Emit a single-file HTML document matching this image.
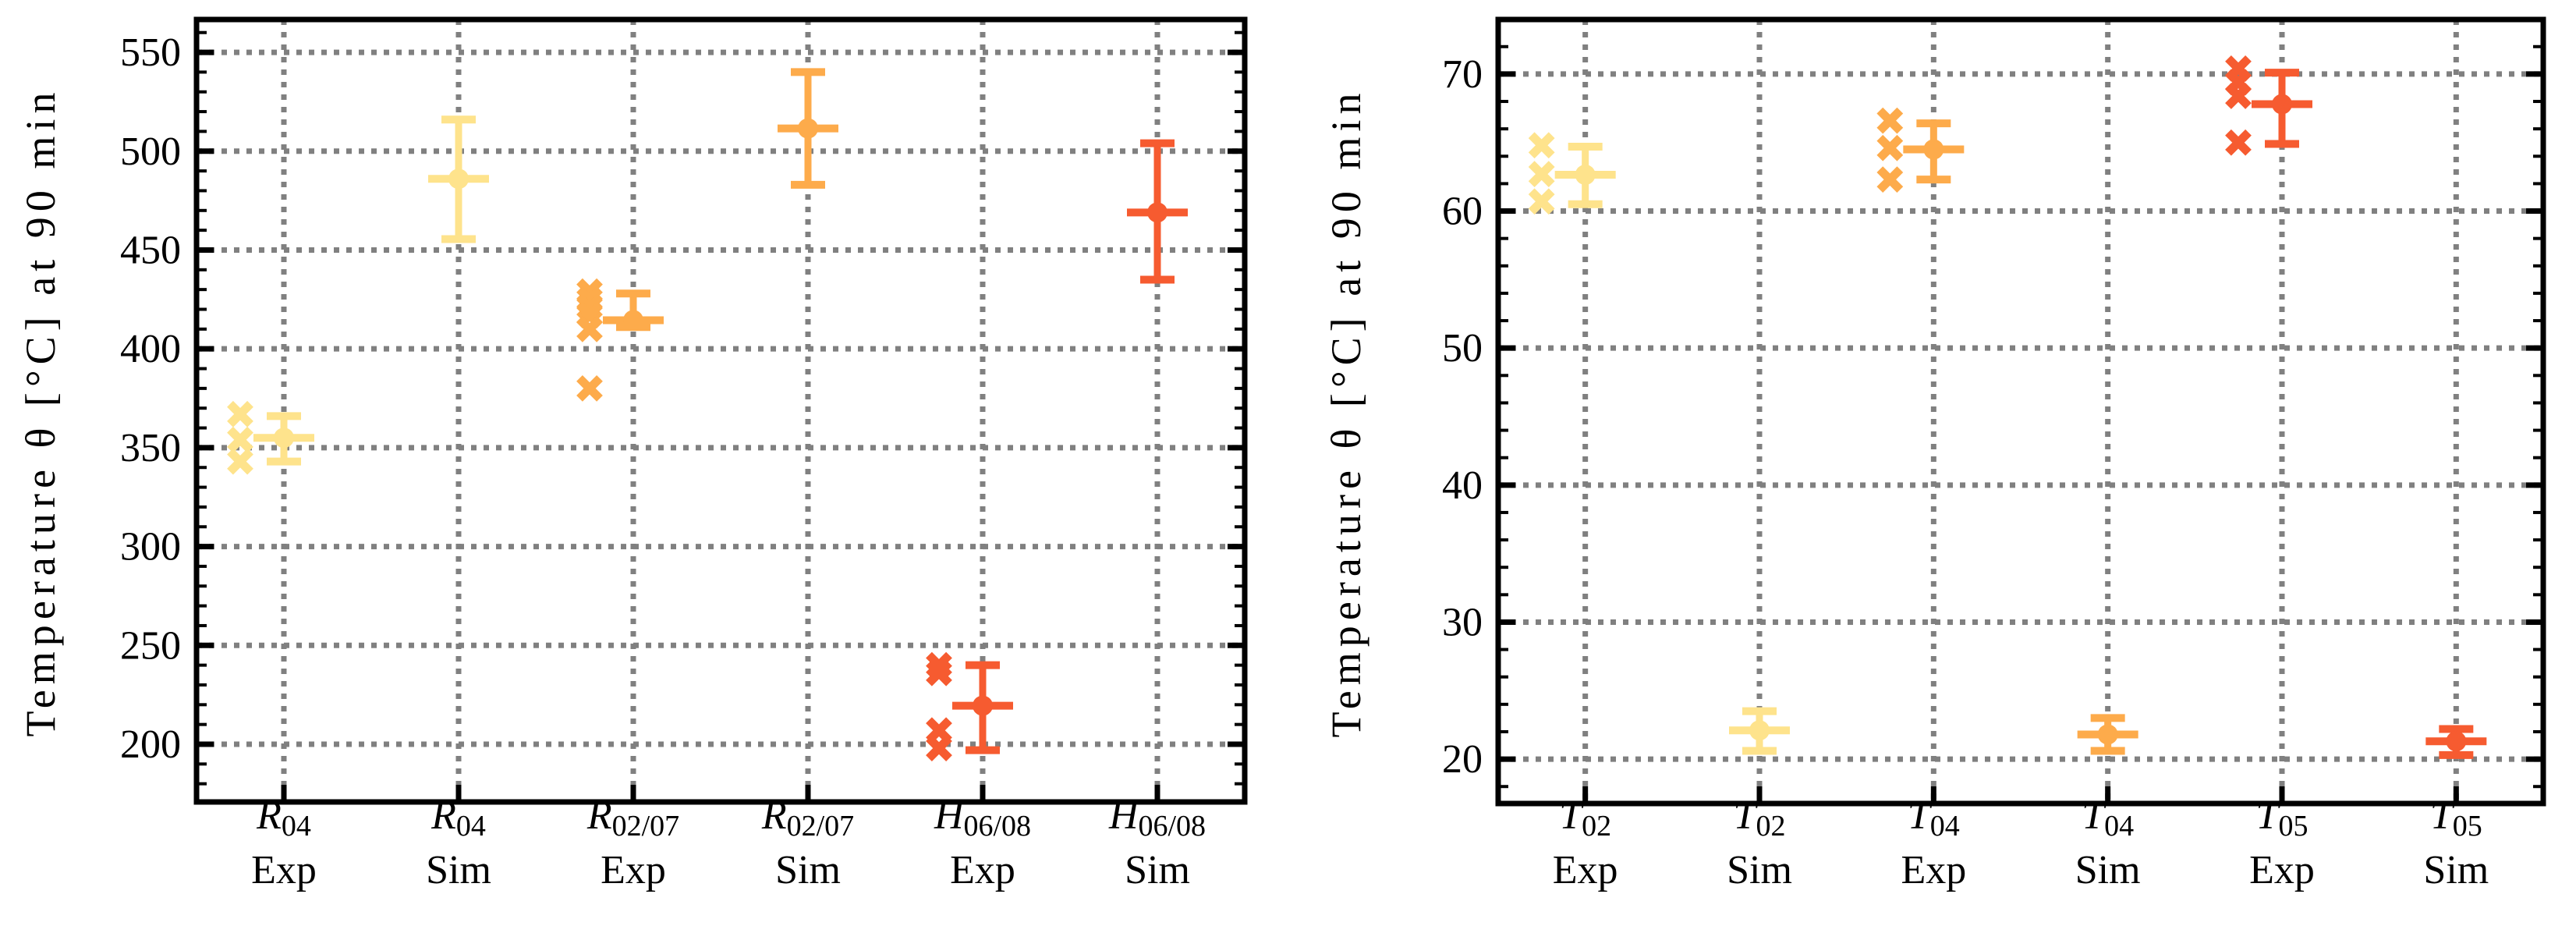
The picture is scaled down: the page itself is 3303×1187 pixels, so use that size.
<!DOCTYPE html>
<html><head><meta charset="utf-8"><style>
html,body{margin:0;padding:0;background:#fff;}
svg{display:block;}
text{font-family:"Liberation Serif",serif;fill:#000;}
</style></head><body>
<svg id="chart" width="3303" height="1187" viewBox="0 0 3303 1187" xmlns="http://www.w3.org/2000/svg"></svg>
<script>
// ---- Left panel data ----
const leftCats = [["R","04","Exp"],["R","04","Sim"],["R","02/07","Exp"],["R","02/07","Sim"],["H","06/08","Exp"],["H","06/08","Sim"]];
const leftMeans = [355, 486, 414.5, 511.5, 219.5, 469];
const leftUpper = [366, 516, 428, 540, 240, 504];
const leftLower = [343, 455.5, 411, 483, 197, 435];
const leftPoints = [[367, 354, 343], [], [429, 425, 421, 417, 410, 380], [], [240, 236, 207, 198], []];
const leftTicks = [200, 250, 300, 350, 400, 450, 500, 550];
// ---- Right panel data ----
const rightCats = [["T","02","Exp"],["T","02","Sim"],["T","04","Exp"],["T","04","Sim"],["T","05","Exp"],["T","05","Sim"]];
const rightMeans = [62.65, 22.1, 64.5, 21.8, 67.8, 21.3];
const rightUpper = [64.7, 23.5, 66.4, 23.0, 70.1, 22.2];
const rightLower = [60.5, 20.6, 62.3, 20.6, 64.9, 20.3];
const rightPoints = [[64.8, 62.7, 60.7], [], [66.6, 64.6, 62.3], [], [70.4, 69.4, 68.4, 65.0], []];
const rightTicks = [20, 30, 40, 50, 60, 70];
const colors = ["#fee38c", "#fee38c", "#fdab4b", "#fdab4b", "#f65b30", "#f65b30"];

const NS = "http://www.w3.org/2000/svg";
const svg = document.getElementById("chart");
function mk(tag, attrs, parent) {
  const e = document.createElementNS(NS, tag);
  for (const k in attrs) e.setAttribute(k, attrs[k]);
  (parent || svg).appendChild(e);
  return e;
}

function panel(cfg) {
  const g = mk("g", {});
  
  
  const {x0, x1, y0, y1, ymin, ymax} = cfg;
  const sx = i => x0 + (i + 0.5) * (x1 - x0) / 6;
  const sy = v => y1 - (v - ymin) / (ymax - ymin) * (y1 - y0);
  const grid = mk("g", {stroke: "#808080", "stroke-width": 7, "stroke-dasharray": "7 9", fill: "none"}, g);
  
  
  cfg.ticks.forEach(t => mk("line", {x1: x0, x2: x1, y1: sy(t), y2: sy(t)}, grid));
  for (let i = 0; i < 6; i++) mk("line", {x1: sx(i), x2: sx(i), y1: y0, y2: y1}, grid);
  const tk = mk("g", {stroke: "#000"}, g);
  
  
  for (let v = Math.ceil(ymin / cfg.minor) * cfg.minor; v <= ymax; v += cfg.minor) {
    const y = sy(v);
    mk("line", {x1: x0, x2: x0 + 13, y1: y, y2: y, "stroke-width": 4}, tk);
    mk("line", {x1: x1 - 13, x2: x1, y1: y, y2: y, "stroke-width": 4}, tk);
  }
  cfg.ticks.forEach(t => {
    const y = sy(t);
    mk("line", {x1: x0, x2: x0 + 22, y1: y, y2: y, "stroke-width": 7}, tk);
    mk("line", {x1: x1 - 22, x2: x1, y1: y, y2: y, "stroke-width": 7}, tk);
    const lab = mk("text", {x: x0 - 20, y: y + 17, "text-anchor": "end", "font-size": 52}, g);
    lab.textContent = t;
    
    
  });
  for (let i = 0; i < 6; i++) {
    mk("line", {x1: sx(i), x2: sx(i), y1: y1 - 22, y2: y1, "stroke-width": 7}, tk);
    const c = cfg.cats[i];
    const t1 = mk("text", {x: sx(i), y: 1062, "text-anchor": "middle", "font-size": 52}, g);
    
    
    const a = mk("tspan", {"font-style": "italic"}, t1); a.textContent = c[0];
    const b = mk("tspan", {"font-size": 38, dy: 9}, t1); b.textContent = c[1];
    const t2 = mk("text", {x: sx(i), y: 1132, "text-anchor": "middle", "font-size": 52}, g);
    t2.textContent = c[2];
    
    
  }
  for (let i = 0; i < 6; i++) {
    const col = colors[i];
    const x = sx(i);
    const s = mk("g", {stroke: col, fill: col}, g);
    
    
    mk("line", {x1: x, x2: x, y1: sy(cfg.upper[i]), y2: sy(cfg.lower[i]), "stroke-width": 9}, s);
    mk("line", {x1: x - 22, x2: x + 22, y1: sy(cfg.upper[i]), y2: sy(cfg.upper[i]), "stroke-width": 10}, s);
    mk("line", {x1: x - 22, x2: x + 22, y1: sy(cfg.lower[i]), y2: sy(cfg.lower[i]), "stroke-width": 10}, s);
    mk("line", {x1: x - 39, x2: x + 39, y1: sy(cfg.means[i]), y2: sy(cfg.means[i]), "stroke-width": 10}, s);
    mk("circle", {cx: x, cy: sy(cfg.means[i]), r: 13, stroke: "none"}, s);
    const px = x - 56;
    cfg.points[i].forEach(v => {
      const y = sy(v), d = 13;
      const m = mk("path", {d: `M${px-d},${y-d}L${px+d},${y+d}M${px-d},${y+d}L${px+d},${y-d}`, "stroke-width": 11, fill: "none"}, s);
      
      
    });
  }
  const fr = mk("rect", {x: x0, y: y0, width: x1 - x0, height: y1 - y0, fill: "none", stroke: "#000", "stroke-width": 7}, g);
  
  
  const yl = mk("text", {x: 0, y: 0, transform: `translate(${cfg.labelX},${(y0 + y1) / 2 + 5}) rotate(-90)`, "text-anchor": "middle", "font-size": 54, textLength: 826, lengthAdjust: "spacing"}, g);
  yl.textContent = "Temperature θ [°C] at 90 min";
  
  
}

panel({name: "left-panel", x0: 252, x1: 1596, y0: 25, y1: 1028, ymin: 170.8, ymax: 566.6,
  ticks: leftTicks, minor: 10, cats: leftCats, means: leftMeans, upper: leftUpper, lower: leftLower,
  points: leftPoints, labelX: 70});
panel({name: "right-panel", x0: 1921, x1: 3261, y0: 25, y1: 1030, ymin: 16.76, ymax: 73.98,
  ticks: rightTicks, minor: 2, cats: rightCats, means: rightMeans, upper: rightUpper, lower: rightLower,
  points: rightPoints, labelX: 1744});
</script>
</body></html>
